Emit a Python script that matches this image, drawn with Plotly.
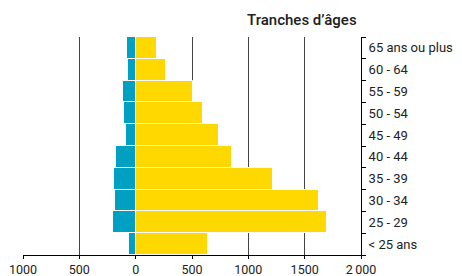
import plotly.graph_objects as go

categories = ["< 25 ans", "25 - 29", "30 - 34", "35 - 39", "40 - 44",
              "45 - 49", "50 - 54", "55 - 59", "60 - 64", "65 ans ou plus"]
blue_values = [55, 200, 185, 195, 175, 90, 100, 110, 70, 75]
yellow_values = [645, 1700, 1625, 1220, 855, 740, 600, 510, 270, 185]
tick_values = [-1000, -500, 0, 500, 1000, 1500, 2000]
tick_labels = ["1000", "500", "0", "500", "1000", "1500", "2\u2009000"]

fig = go.Figure()
fig.add_trace(go.Bar(y=categories, x=[-v for v in blue_values], orientation="h",
                     marker=dict(color="#00A0C2", line=dict(color="white", width=1)),
                     showlegend=False))
fig.add_trace(go.Bar(y=categories, x=yellow_values, orientation="h",
                     marker=dict(color="#FFD800", line=dict(color="white", width=1)),
                     showlegend=False))

fig.update_layout(
    width=462, height=276,
    margin=dict(l=15, r=109, t=29, b=29),
    plot_bgcolor="white", paper_bgcolor="white",
    barmode="relative", bargap=0,
    font=dict(family="Roboto", size=13, color="#222"),
    xaxis=dict(range=[-1000, 2000], tickvals=tick_values, ticktext=tick_labels,
               showgrid=True, gridcolor="#444", gridwidth=1, zeroline=False,
               showline=True, linecolor="black", linewidth=1,
               ticks="outside", ticklen=3, tickcolor="black",
               tickfont=dict(size=12.5), automargin=False),
    yaxis=dict(categoryorder="array", categoryarray=categories, side="right",
               showline=True, linecolor="black", linewidth=1,
               ticks="outside", ticklen=4, tickcolor="black", tickson="boundaries",
               showgrid=False, tickfont=dict(size=13), range=[-0.5, 9.5],
               ticklabelstandoff=4, automargin=False),
    annotations=[dict(text="Tranches d\u2019âges", xref="paper", yref="paper",
                      x=0.995, y=1.0, xanchor="right", yanchor="bottom", yshift=6,
                      showarrow=False,
                      font=dict(size=15, color="#222", family="Roboto Medium, Roboto"))],
)

fig.write_html("out.html")
